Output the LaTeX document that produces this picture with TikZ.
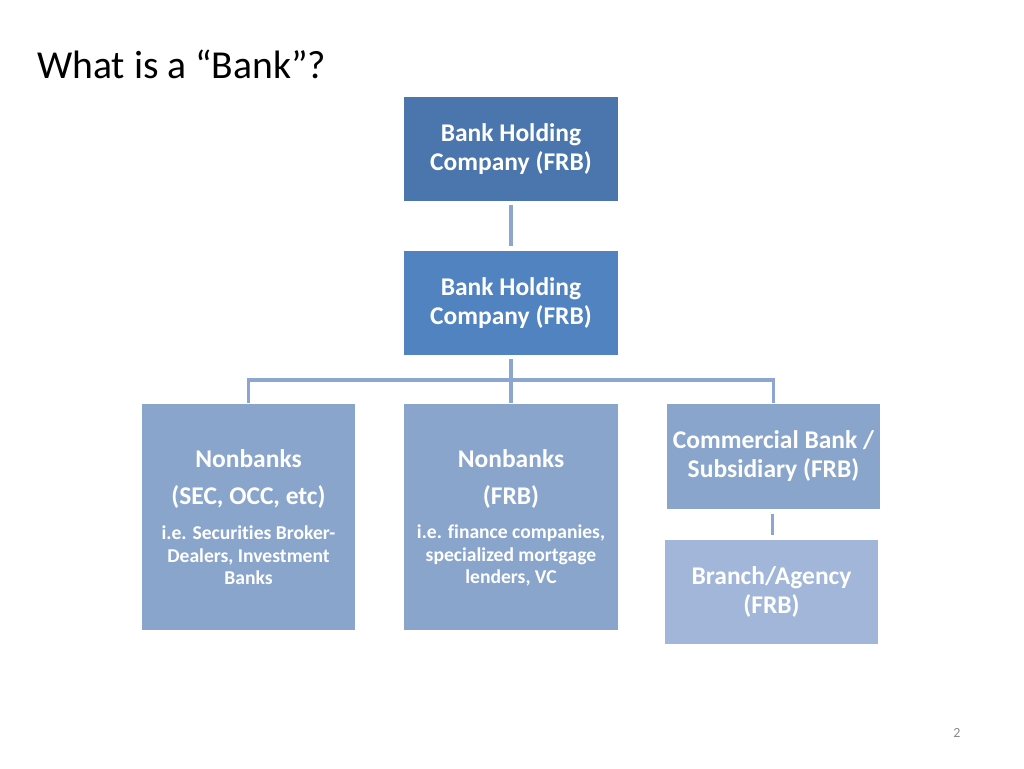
\documentclass[tikz,border=0pt]{standalone}
\usepackage{fontspec}
\setmainfont{Carlito}[Ligatures=NoCommon]
\definecolor{boxA}{HTML}{4A76AD}
\definecolor{boxB}{HTML}{5283C1}
\definecolor{boxC}{HTML}{8AA5CC}
\definecolor{boxD}{HTML}{A1B6D9}
\definecolor{linkc}{HTML}{8CA6CF}
\definecolor{pgnum}{HTML}{8A8A8A}
\begin{document}
\begin{tikzpicture}[x=1pt,y=-1pt,
  orgbox/.style={rectangle,inner sep=0pt,text=white,align=center,
    font=\fontsize{25.5}{29}\selectfont\bfseries},
  bigtxt/.style={text=white,align=center,inner sep=0pt,font=\fontsize{25.5}{29}\selectfont\bfseries},
  smalltxt/.style={text=white,align=center,inner sep=0pt,font=\fontsize{19.6}{22.5}\selectfont\bfseries},
  link/.style={draw=linkc,line width=3.2pt}]
\useasboundingbox (0,0) rectangle (1024,768);
\node[anchor=base west,inner sep=0pt,font=\fontsize{39.6}{48}\selectfont] (title) at (37,78) {What is a “Bank”?};
\node[orgbox,fill=boxA,minimum width=214pt,minimum height=104pt] (bhc1) at (511,149) {Bank Holding\\Company (FRB)};
\node[orgbox,fill=boxB,minimum width=214pt,minimum height=104pt] (bhc2) at (511,303) {Bank Holding\\Company (FRB)};
\node[orgbox,fill=boxC,minimum width=213pt,minimum height=226pt] (nb1) at (248.5,517) {};
\node[orgbox,fill=boxC,minimum width=214pt,minimum height=226pt] (nb2) at (511,517) {};
\node[orgbox,fill=boxC,minimum width=213pt,minimum height=105pt] (cb) at (773.5,456.5) {Commercial Bank /\\Subsidiary (FRB)};
\node[orgbox,fill=boxD,minimum width=213pt,minimum height=104pt] (br) at (771.5,592) {Branch/Agency\\(FRB)};
% texts in nonbank boxes
\node[bigtxt] (nb1a) at (248.5,459) {Nonbanks};
\node[bigtxt] (nb1b) at (248.5,497) {(SEC, OCC, etc)};
\node[smalltxt] (nb1c) at (248.5,555.5) {i.e. Securities Broker-\\Dealers, Investment\\Banks};
\node[bigtxt] (nb2a) at (511,459) {Nonbanks};
\node[bigtxt] (nb2b) at (511,497) {(FRB)};
\node[smalltxt] (nb2c) at (511,555.5) {i.e. finance companies,\\specialized mortgage\\lenders, VC};
% connectors
\coordinate (bus) at (511,380);
\draw[link] ([yshift=-4pt]bhc1.south) -- ([yshift=5pt]bhc2.north);
\draw[link] ([yshift=-4pt]bhc2.south) -- ([yshift=1pt]nb2.north);
\draw[link] ([yshift=1pt]nb1.north) |- (bus) -| ([yshift=1pt]cb.north);
\draw[link] ([xshift=-1pt,yshift=-5pt]cb.south) -- ([yshift=5pt,xshift=1pt]br.north);
\node[font=\fontsize{14}{16}\selectfont,text=pgnum,inner sep=0pt] (pg) at (957,733) {2};
\end{tikzpicture}
\end{document}
